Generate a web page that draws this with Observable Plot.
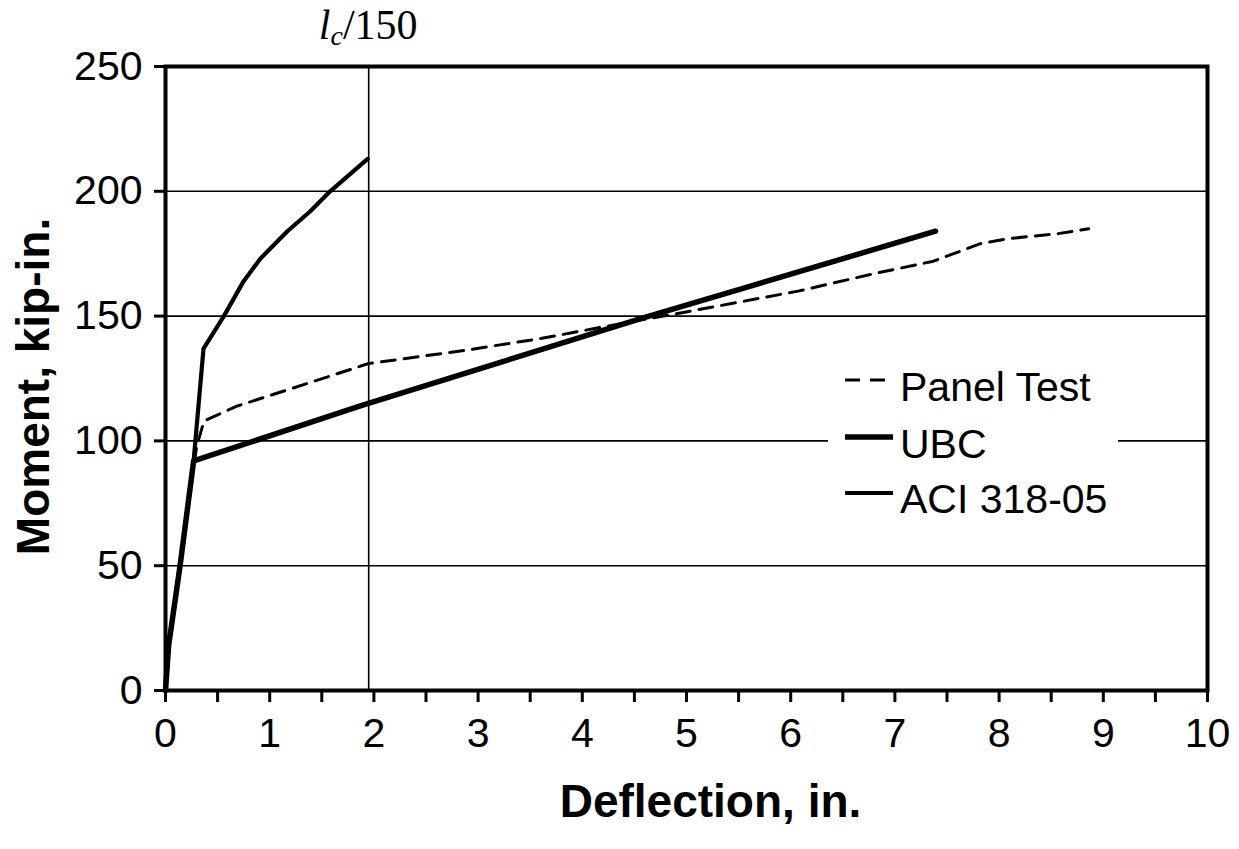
<!DOCTYPE html>
<html>
<head>
<meta charset="utf-8">
<script src="https://cdn.jsdelivr.net/npm/d3@7"></script>
<script src="https://cdn.jsdelivr.net/npm/@observablehq/plot@0.6"></script>
<style>
  body { margin: 0; background: #fff; }
  #wrap { position: relative; width: 1239px; height: 849px; font-family: "Liberation Sans", Arial, sans-serif; }
  #limit { position: absolute; top: 2px; line-height: 46px; font-family: "Liberation Serif", "Times New Roman", serif; font-size: 42px; transform: translateX(-50%); white-space: nowrap; }
  #legend { position: absolute; left: 828px; top: 348px; width: 290px; height: 178px; background: #fff; }
  .row { position: absolute; left: 0; font-size: 41px; color: #000; }
</style>
</head>
<body>
<div id="wrap"></div>
<script>
// ---- data ----
const panelX = [0, 0.03, 0.15, 0.30, 0.37, 0.69, 1.36, 1.95, 2.83, 3.60, 4.50, 5.04, 6.07, 6.80, 7.37, 7.82, 8.08, 8.56, 8.86];
const panelY = [0, 20, 55, 98, 108, 114, 123, 131, 136, 141, 148, 152, 160, 167, 172, 179, 181, 183, 185];
const ubcX = [0, 0.03, 0.14, 0.27, 1.87, 4.56, 7.39];
const ubcY = [0, 18, 50, 92, 114, 149, 184];
const aciX = [0, 0.03, 0.14, 0.27, 0.365, 0.56, 0.75, 0.91, 1.17, 1.39, 1.58, 1.94];
const aciY = [0, 18, 50, 92, 137, 150, 164, 173, 184, 192, 200, 213];
const xTicks = d3.range(0, 10.5, 0.5);
const yTicks = [0, 50, 100, 150, 200, 250];
const gridY = [50, 100, 150, 200];
const limitX = 1.95; // l_c/150
const seriesNames = ["Panel Test", "UBC", "ACI 318-05"];

const toRows = (xs, ys) => xs.map((x, i) => ({x, y: ys[i]}));
const panel = toRows(panelX, panelY);
const ubc = toRows(ubcX, ubcY);
const aci = toRows(aciX, aciY);

const font = "Liberation Sans, Arial, sans-serif";

const plot = Plot.plot({
  width: 1239,
  height: 849,
  marginLeft: 165,
  marginRight: 32,
  marginTop: 66,
  marginBottom: 159,
  style: {fontFamily: font, color: "#000", background: "#fff"},
  x: {domain: [0, 10]},
  y: {domain: [0, 250]},
  marks: [
    Plot.ruleY(gridY, {stroke: "#000", strokeWidth: 1.6}),
    Plot.ruleX([limitX], {stroke: "#000", strokeWidth: 1.6}),
    Plot.line(aci, {x: "x", y: "y", stroke: "#000", strokeWidth: 4.2}),
    Plot.line(ubc, {x: "x", y: "y", stroke: "#000", strokeWidth: 5.5}),
    Plot.line(panel, {x: "x", y: "y", stroke: "#000", strokeWidth: 3, strokeDasharray: "14,9"}),
    Plot.axisX({ticks: xTicks, tickSize: 12, strokeWidth: 3, tickFormat: d => Number.isInteger(d) ? String(d) : "", tickPadding: 15, fontSize: 41, label: null}),
    Plot.axisY({ticks: yTicks, tickSize: 11, strokeWidth: 3, tickPadding: 12, fontSize: 41, label: null}),
    Plot.frame({stroke: "#000", strokeWidth: 4}),
    Plot.text(["Deflection, in."], {frameAnchor: "bottom", dx: 24, dy: 112, fontSize: 46, fontWeight: "bold", lineAnchor: "middle", textAnchor: "middle"}),
    Plot.text(["Moment, kip-in."], {frameAnchor: "left", dx: -131, dy: 8, rotate: -90, fontSize: 46, fontWeight: "bold", lineAnchor: "middle", textAnchor: "middle"})
  ]
});

const wrap = document.getElementById("wrap");
wrap.appendChild(plot);

// l_c/150 label positioned through the x scale
const lim = document.createElement("div");
lim.id = "limit";
lim.style.left = plot.scale("x").apply(limitX) + "px";
lim.innerHTML = '<i>l</i><sub style="font-size:28px;vertical-align:-6px;line-height:0;"><i>c</i></sub>/150';
wrap.appendChild(lim);

// legend
const leg = document.createElement("div");
leg.id = "legend";
const rows = [
  {name: seriesNames[0], sw: 3, dash: "15,10", lineTop: 32, textTop: 18},
  {name: seriesNames[1], sw: 5.5, dash: null, lineTop: 89, textTop: 75},
  {name: seriesNames[2], sw: 4.2, dash: null, lineTop: 145, textTop: 130}
];
rows.forEach(r => {
  const svg = d3.create("svg").attr("width", 50).attr("height", 10)
    .style("position", "absolute").style("left", "17px").style("top", (r.lineTop - 5) + "px");
  svg.append("line").attr("x1", 0).attr("x2", r.dash ? 40 : 48).attr("y1", 5).attr("y2", 5)
    .attr("stroke", "#000").attr("stroke-width", r.sw).attr("stroke-dasharray", r.dash);
  leg.appendChild(svg.node());
  const t = document.createElement("div");
  t.className = "row";
  t.style.left = "72px";
  t.style.top = (r.textTop - 2) + "px";
  t.textContent = r.name;
  leg.appendChild(t);
});
wrap.appendChild(leg);
</script>
</body>
</html>
